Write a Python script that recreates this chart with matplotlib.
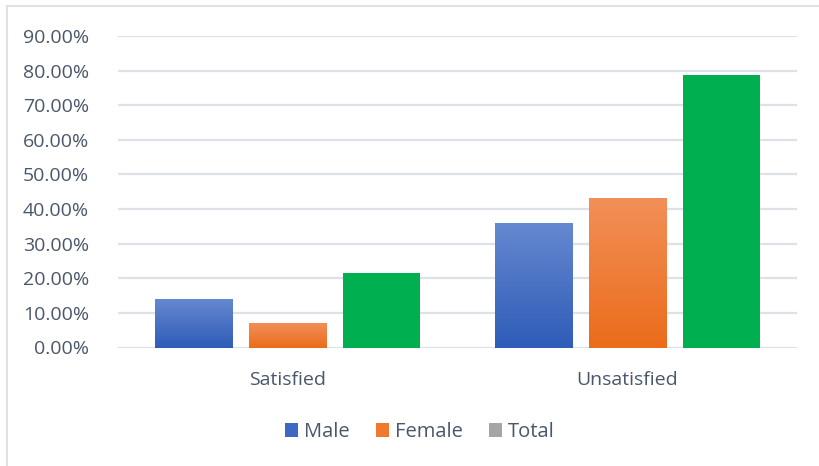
import numpy as np
import matplotlib.pyplot as plt
from matplotlib.colors import LinearSegmentedColormap
from matplotlib.lines import Line2D
from matplotlib.patches import Patch

# data
categories = ["Satisfied", "Unsatisfied"]
series = ["Male", "Female", "Total"]
male = [0.139, 0.361]
female = [0.070, 0.431]
total = [0.214, 0.788]
yticks = [0.0, 0.1, 0.2, 0.3, 0.4, 0.5, 0.6, 0.7, 0.8, 0.9]

text_color = "#4a576a"
grid_color = "#dde2e8"
plt.rcParams["font.family"] = ["Open Sans", "DejaVu Sans"]

fig = plt.figure(figsize=(8.2, 4.66), dpi=100)
ax = fig.add_axes([118 / 820, 1 - 347.5 / 466, 679 / 820, 311.5 / 466])

x = np.arange(len(categories))
width = 0.227
step = 0.277

# gradient bars for male and female, flat green for total
grads = {
    "Male": ("#2e5cb8", "#6688d0"),
    "Female": ("#eb6c1a", "#f28f58"),
}
values = {"Male": male, "Female": female, "Total": total}
for i, name in enumerate(series):
    pos = x + (i - 1) * step
    if name == "Total":
        ax.bar(pos, values[name], width, color="#00b050", zorder=3)
        continue
    cmap = LinearSegmentedColormap.from_list(name, grads[name])
    bars = ax.bar(pos, values[name], width, color="none", zorder=3)
    for b in bars:
        x0, y0 = b.get_x(), b.get_y()
        w, h = b.get_width(), b.get_height()
        grad = np.linspace(0, 1, 256).reshape(-1, 1)
        im = ax.imshow(grad, cmap=cmap, origin="lower", aspect="auto",
                       extent=[x0, x0 + w, y0, y0 + h], zorder=3)
        im.set_clip_path(b)

ax.set_xlim(-0.5, 1.5)
ax.set_ylim(0, 0.9)
ax.set_yticks(yticks)
ax.set_yticklabels([f"{v * 100:.2f}%" for v in yticks])
ax.set_xticks(x)
ax.set_xticklabels(categories)
ax.tick_params(axis="both", length=0, labelsize=14, colors=text_color)
ax.tick_params(axis="y", pad=21)
ax.tick_params(axis="x", pad=17)
ax.grid(axis="y", color=grid_color, linewidth=1.6, zorder=0)
for s in ax.spines.values():
    s.set_visible(False)

handles = [
    Patch(facecolor="#3d69c4", label="Male"),
    Patch(facecolor="#ef7a2e", label="Female"),
    Patch(facecolor="#a5a5a5", label="Total"),
]
fig.legend(handles=handles, loc="center", bbox_to_anchor=(0.512, 1 - 432 / 466),
           ncol=3, frameon=False, fontsize=14.5, labelcolor=text_color,
           handlelength=0.65, handleheight=0.65, handletextpad=0.3, columnspacing=1.3)

# chart frame
fig.add_artist(Line2D([7 / 820, 1], [1 - 6 / 466] * 2, color=grid_color, linewidth=1.5))
fig.add_artist(Line2D([7 / 820] * 2, [0, 1 - 6 / 466], color=grid_color, linewidth=1.5))

fig.savefig("out.png", dpi=100)
